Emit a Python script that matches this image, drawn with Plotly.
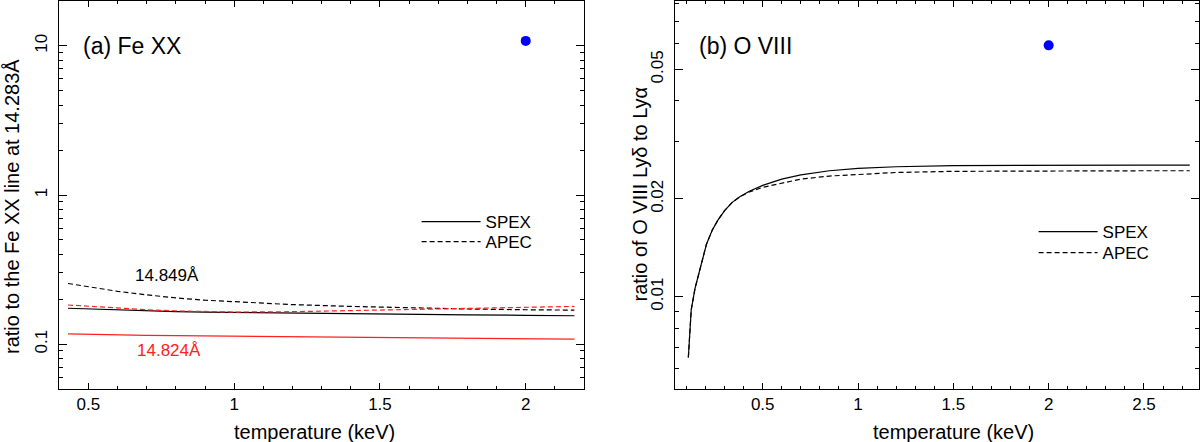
import numpy as np
import plotly.graph_objects as go

# ---- (a) Fe XX : line ratios relative to the 14.283 A line ----
fe_temp = [0.43, 0.5, 0.6, 0.7, 0.8, 0.9, 1.0, 1.2, 1.4, 1.6, 1.8, 2.0, 2.167]
fe849_spex = [0.174, 0.172, 0.169, 0.167, 0.165, 0.164, 0.163, 0.161, 0.160, 0.158, 0.157, 0.156, 0.155]
fe849_apec = [0.255, 0.242, 0.226, 0.214, 0.204, 0.197, 0.192, 0.184, 0.179, 0.175, 0.172, 0.170, 0.169]
fe824_spex = [0.117, 0.116, 0.115, 0.1145, 0.114, 0.1135, 0.113, 0.112, 0.111, 0.110, 0.1095, 0.109, 0.108]
fe824_apec = [0.183, 0.179, 0.174, 0.170, 0.167, 0.165, 0.164, 0.165, 0.168, 0.171, 0.174, 0.177, 0.179]
fe_obs_temp = [2.0]
fe_obs_ratio = [10.8]

# ---- (b) O VIII : Ly delta / Ly alpha ----
o_temp = [0.11, 0.125, 0.145, 0.165, 0.185, 0.205, 0.235, 0.265, 0.3, 0.34, 0.38, 0.43,
          0.5, 0.6, 0.7, 0.85, 1.0, 1.2, 1.5, 2.0, 2.5, 2.74]
o_spex = [0.0065, 0.0091, 0.0106, 0.0118, 0.0133, 0.0145, 0.0160, 0.0172, 0.0184, 0.0195, 0.0203, 0.0211,
          0.0220, 0.0230, 0.0237, 0.0244, 0.0248, 0.0251, 0.0253, 0.0254, 0.0254, 0.0254]
o_apec = [0.0065, 0.0091, 0.0106, 0.0118, 0.0133, 0.0145, 0.0160, 0.0172, 0.0184, 0.0195, 0.0203, 0.0210,
          0.0217, 0.0224, 0.0230, 0.0235, 0.0238, 0.0241, 0.0243, 0.0244, 0.0244, 0.0244]
o_obs_temp = [2.0]
o_obs_ratio = [0.0593]

# tick labels
fe_xticks = [0.5, 1, 1.5, 2]
fe_xticktext = ['0.5', '1', '1.5', '2']
fe_yticks = [0.1, 1, 10]
fe_yticktext = ['0.1', '1', '10']
o_xticks = [0.5, 1, 1.5, 2, 2.5]
o_xticktext = ['0.5', '1', '1.5', '2', '2.5']
o_yticks = [0.01, 0.02, 0.05]
o_yticktext = ['0.01', '0.02', '0.05']

FONT = 'Liberation Sans, Arial, Helvetica, sans-serif'
RED = '#ff2020'
DASH = '5px,3px'
LW = 1.2

fe_yminor = [v * d for d in (0.01, 0.1, 1, 10) for v in range(2, 10)]
o_yminor = [v * d for d in (0.001, 0.01) for v in range(2, 10)]


def px_y(y):
    # pixel row (from top of figure) -> paper y, plot area spans rows 1..389
    return (389 - y) / 388


fig = go.Figure()

# panel (a)
fig.add_trace(go.Scatter(x=fe_temp, y=fe849_spex, mode='lines', name='SPEX',
                         line=dict(color='black', width=LW), legend='legend'))
fig.add_trace(go.Scatter(x=fe_temp, y=fe849_apec, mode='lines', name='APEC',
                         line=dict(color='black', width=LW, dash=DASH), legend='legend2'))
fig.add_trace(go.Scatter(x=fe_temp, y=fe824_spex, mode='lines', showlegend=False,
                         line=dict(color=RED, width=LW)))
fig.add_trace(go.Scatter(x=fe_temp, y=fe824_apec, mode='lines', showlegend=False,
                         line=dict(color=RED, width=LW, dash=DASH)))
fig.add_trace(go.Scatter(x=fe_obs_temp, y=fe_obs_ratio, mode='markers', showlegend=False,
                         marker=dict(color='#0000ff', size=10)))

# panel (b)
fig.add_trace(go.Scatter(x=o_temp, y=o_spex, mode='lines', name='SPEX', xaxis='x2', yaxis='y2',
                         line=dict(color='black', width=LW), legend='legend3'))
fig.add_trace(go.Scatter(x=o_temp, y=o_apec, mode='lines', name='APEC', xaxis='x2', yaxis='y2',
                         line=dict(color='black', width=LW, dash=DASH), legend='legend4'))
fig.add_trace(go.Scatter(x=o_obs_temp, y=o_obs_ratio, mode='markers', showlegend=False,
                         xaxis='x2', yaxis='y2', marker=dict(color='#0000ff', size=10)))

axis_common = dict(showline=True, linecolor='black', linewidth=1, mirror='allticks',
                   ticks='inside', tickcolor='black', showgrid=False, zeroline=False,
                   tickfont=dict(size=17, color='black', family=FONT))


def legend_box(x_px, y_px):
    return dict(x=(x_px - 5.4) / 1200, y=px_y(y_px), xanchor='left', yanchor='middle',
                bgcolor='rgba(0,0,0,0)', itemwidth=59,
                font=dict(size=17, family=FONT, color='black'))


fig.update_layout(
    width=1200, height=442,
    margin=dict(l=0, r=0, t=1, b=53),
    paper_bgcolor='white', plot_bgcolor='white',
    font=dict(family=FONT, color='black'),
    xaxis=dict(domain=[0.0494, 0.4867], range=[0.4, 2.2], tickmode='array',
               tickvals=fe_xticks, ticktext=fe_xticktext, ticklen=6,
               minor=dict(ticks='inside', ticklen=3, tick0=0, dtick=0.1, tickcolor='black'),
               anchor='y', **axis_common),
    yaxis=dict(type='log', range=[np.log10(0.05), np.log10(20)], tickmode='array',
               tickvals=fe_yticks, ticktext=fe_yticktext, tickangle=-90, ticklen=8,
               ticklabelstandoff=4,
               minor=dict(ticks='inside', ticklen=4, tickvals=fe_yminor, tickcolor='black'),
               anchor='x', **axis_common),
    xaxis2=dict(domain=[0.5625, 0.9994], range=[0.04, 2.79], tickmode='array',
                tickvals=o_xticks, ticktext=o_xticktext, ticklen=6,
                minor=dict(ticks='inside', ticklen=3, tick0=0, dtick=0.1, tickcolor='black'),
                anchor='y2', **axis_common),
    yaxis2=dict(type='log', range=[np.log10(0.0052), np.log10(0.0812)], tickmode='array',
                tickvals=o_yticks, ticktext=o_yticktext, tickangle=-90, ticklen=8,
                ticklabelstandoff=4,
                minor=dict(ticks='inside', ticklen=4, tickvals=o_yminor, tickcolor='black'),
                anchor='x2', **axis_common),
    legend=legend_box(422, 222),
    legend2=legend_box(422, 242),
    legend3=legend_box(1039, 232),
    legend4=legend_box(1039, 253),
)

annotations = [
    # panel labels
    dict(text='(a) Fe XX', xref='x domain', yref='y domain', x=0.041, y=0.884,
         xanchor='left', yanchor='middle', font=dict(size=23)),
    dict(text='(b) O VIII', xref='x2 domain', yref='y2 domain', x=0.042, y=0.884,
         xanchor='left', yanchor='middle', font=dict(size=23)),
    # line labels
    dict(text='14.849Å', xref='x', yref='y', x=0.77, y=np.log10(0.29),
         xanchor='center', yanchor='middle', font=dict(size=17, color='black')),
    dict(text='14.824Å', xref='x', yref='y', x=0.775, y=np.log10(0.09),
         xanchor='center', yanchor='middle', font=dict(size=17, color=RED)),
    # axis titles
    dict(text='temperature (keV)', xref='paper', yref='paper', x=314.5 / 1200, y=px_y(432),
         xanchor='center', yanchor='middle', font=dict(size=20)),
    dict(text='temperature (keV)', xref='paper', yref='paper', x=953.7 / 1200, y=px_y(432),
         xanchor='center', yanchor='middle', font=dict(size=20)),
    dict(text='ratio to the Fe XX line at 14.283Å', xref='paper', yref='paper', x=12 / 1200,
         y=px_y(207), xanchor='center', yanchor='middle', textangle=-90, font=dict(size=20)),
    dict(text='ratio of O VIII Lyδ to Lyα', xref='paper', yref='paper', x=639.5 / 1200,
         y=px_y(194), xanchor='center', yanchor='middle', textangle=-90, font=dict(size=20)),
]
for a in annotations:
    a['showarrow'] = False
    a.setdefault('font', {})
    a['font'].setdefault('family', FONT)
    a['font'].setdefault('color', 'black')
fig.update_layout(annotations=annotations)

# drop the browser's default body margin so the figure sits flush in the window
fig.write_html("out.html", config={'displayModeBar': False},
               post_script="document.body.style.margin='0';")
